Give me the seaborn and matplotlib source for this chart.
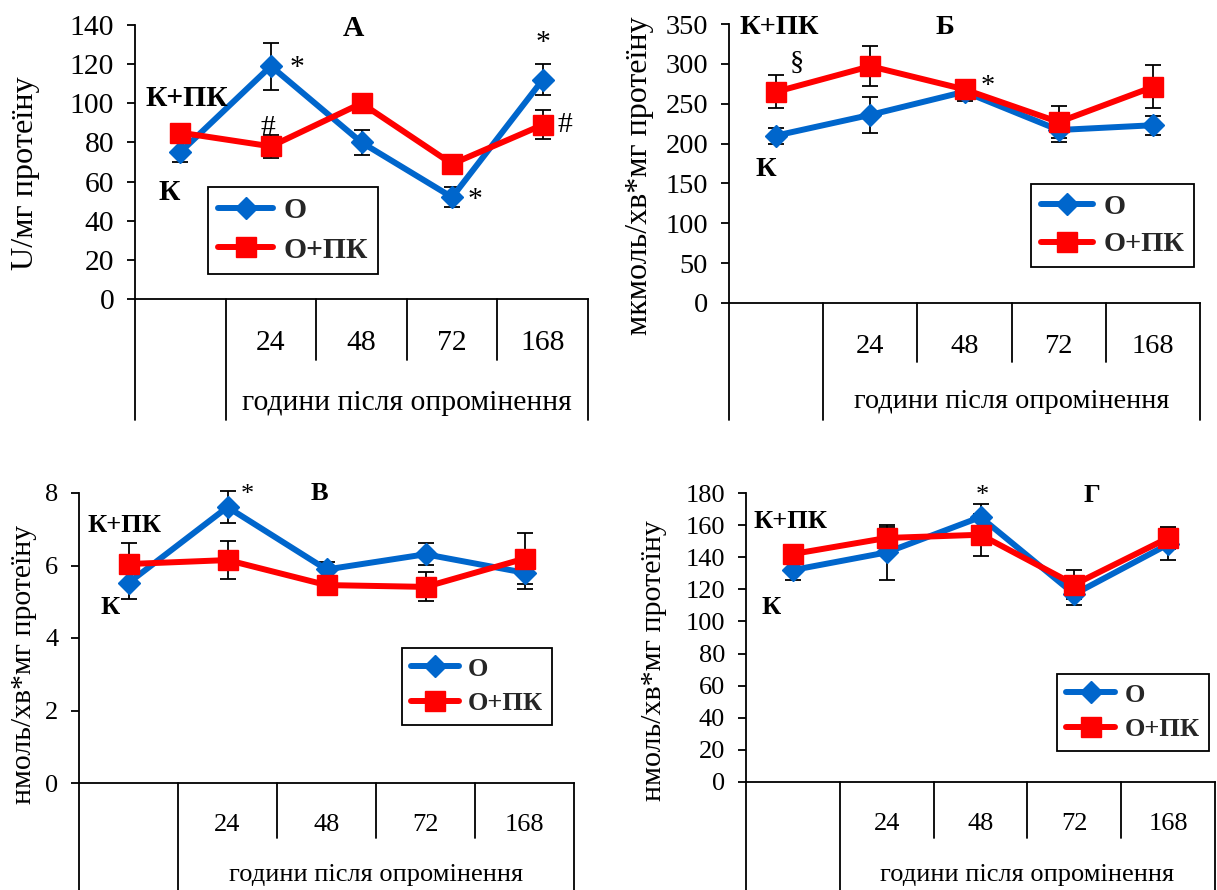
import matplotlib
matplotlib.use("Agg")
import matplotlib.pyplot as plt
import matplotlib.transforms as mtrans
import numpy as np
import pandas as pd
import seaborn as sns

# ---------------- data ----------------
x_pos = [0, 1, 2, 3, 4]
table_labels = ["", "24", "48", "72", "168"]
group_names = ["О", "О+ПК"]
xlabel_text = "години після опромінення"

# Panel А
a_O = [75, 119, 80, 52, 112]
a_O_err = [5, 12, 6.5, 5, 8]
a_P = [85, 78, 100, 69, 89]
a_P_err = [3, 6, 4, 3, 7.5]
a_ylabel = "U/мг протеїну"

# Panel Б
b_O = [210, 236, 265, 217, 223]
b_O_err = [10, 23, 12, 15, 12]
b_P = [265, 297, 268, 227, 271]
b_P_err = [21, 25, 10, 20, 27]
b_ylabel = "мкмоль/хв*мг протеїну"

# Panel В
c_O = [5.52, 7.61, 5.89, 6.31, 5.80]
c_O_err = [0.45, 0.45, 0.2, 0.3, 0.45]
c_P = [6.04, 6.15, 5.46, 5.41, 6.19]
c_P_err = [0.58, 0.53, 0.2, 0.4, 0.7]
c_ylabel = "нмоль/хв*мг протеїну"

# Panel Г
d_O = [132, 143, 165, 117, 148]
d_O_err = [6, 17, 8, 7, 10]
d_P = [142, 152, 154, 123, 152]
d_P_err = [4, 7, 13, 9, 7]
d_ylabel = "нмоль/хв*мг протеїну"

# significance marks: (symbol, series, index)
a_marks = [("*", "O", 1), ("#", "P", 1), ("*", "O", 3), ("*", "O", 4), ("#", "P", 4)]
b_marks = [("§", "P", 0), ("*", "P", 2)]
c_marks = [("*", "O", 1)]
d_marks = [("*", "O", 2)]

# ---------------- style ----------------
sns.set_theme(style="white")
plt.rcParams["font.family"] = ["Liberation Serif", "DejaVu Serif"]
BLUE = "#0066CC"
RED = "#FF0000"
W, H = 1217, 890
fig = plt.figure(figsize=(W / 100, H / 100), dpi=100)
fig.patch.set_facecolor("white")

# offsets (pixels) of marks relative to their points, y up
mark_offsets = {
    "A": [(26, -2), (-3, 18), (23, -3), (0, 37), (22, 0)],
    "B": [(21, 28), (23, 3)],
    "C": [(20, 12)],
    "D": [(2, 21)],
}

panels = [
    dict(key="A", L=135, R=588, T=25, B=299, ymax=140, step=20, fs=21.3, yfs=23.2,
         O=a_O, Oe=a_O_err, P=a_P, Pe=a_P_err, ylabel=a_ylabel, ylab=(26, 173),
         title="А", title_xy=(353, 28), kp=(187, 98), k=(169, 192),
         leg=(208, 187), hl=1.85, row=360, bot=420, xlab=403, marks=a_marks),
    dict(key="B", L=729, R=1200, T=24, B=303, ymax=350, step=50, fs=20.4, yfs=23.0,
         O=b_O, Oe=b_O_err, P=b_P, Pe=b_P_err, ylabel=b_ylabel, ylab=(640, 176),
         title="Б", title_xy=(945, 27), kp=(779, 27), k=(766, 170),
         leg=(1031, 184), hl=1.85, row=362, bot=420, xlab=402, marks=b_marks),
    dict(key="C", L=79, R=574, T=493, B=783, ymax=8, step=2, fs=19.0, yfs=21.4,
         O=c_O, Oe=c_O_err, P=c_P, Pe=c_P_err, ylabel=c_ylabel, ylab=(24, 664),
         title="В", title_xy=(319, 494), kp=(125, 525), k=(110, 608),
         leg=(402, 648), hl=1.8, row=838, bot=890, xlab=875, marks=c_marks),
    dict(key="D", L=746, R=1215, T=493, B=782, ymax=180, step=20, fs=19.0, yfs=21.6,
         O=d_O, Oe=d_O_err, P=d_P, Pe=d_P_err, ylabel=d_ylabel, ylab=(654, 661),
         title="Г", title_xy=(1092, 495), kp=(791, 522), k=(771, 608),
         leg=(1057, 674), hl=1.85, row=838, bot=890, xlab=875, marks=d_marks),
]


def ftext(x, y, s, fs, **kw):
    fig.text(x / W, 1 - y / H, s, ha="center", va="center", fontsize=fs, color="black", **kw)


for p in panels:
    L, R, T, B = p["L"], p["R"], p["T"], p["B"]
    fs = p["fs"]
    ax = fig.add_axes([L / W, 1 - B / H, (R - L) / W, (B - T) / H])
    ax.set_facecolor("white")
    hpx = B - T

    ax.errorbar(x_pos, p["O"], yerr=p["Oe"], fmt="none", ecolor="black",
                elinewidth=1.3, capsize=5.5, capthick=1.3, zorder=2, clip_on=False)
    ax.errorbar(x_pos, p["P"], yerr=p["Pe"], fmt="none", ecolor="black",
                elinewidth=1.3, capsize=5.5, capthick=1.3, zorder=2, clip_on=False)

    df_o = pd.DataFrame({"pos": x_pos, "value": p["O"]})
    df_p = pd.DataFrame({"pos": x_pos, "value": p["P"]})
    sns.lineplot(data=df_o, x="pos", y="value", ax=ax, color=BLUE, marker="D",
                 markersize=11.5, markeredgecolor=BLUE, markeredgewidth=1,
                 linewidth=4.3, errorbar=None, legend=False, zorder=3)
    line_o = ax.lines[-1]
    sns.lineplot(data=df_p, x="pos", y="value", ax=ax, color=RED, marker="s",
                 markersize=14, markeredgecolor=RED, markeredgewidth=1,
                 linewidth=4.3, errorbar=None, legend=False, zorder=4)
    line_p = ax.lines[-1]
    for ln in (line_o, line_p):
        ln.set_clip_on(False)

    ax.set_xlim(-0.5, 4.5)
    ax.set_ylim(0, p["ymax"])
    ax.set_yticks(np.arange(0, p["ymax"] + p["step"] / 2, p["step"]))
    ax.set_xticks(x_pos, table_labels)
    ax.set_xlabel("")
    ax.set_ylabel("")
    ax.tick_params(axis="y", left=True, direction="out", length=6, width=1.3,
                   pad=9, labelsize=fs, colors="black")
    ax.tick_params(axis="x", bottom=False, length=0, pad=22, labelsize=fs, colors="black")
    for s in ("top", "right"):
        ax.spines[s].set_visible(False)
    for s in ("left", "bottom"):
        ax.spines[s].set_color("black")
        ax.spines[s].set_linewidth(1.3)

    # table below the axis
    tr = mtrans.blended_transform_factory(ax.transData, ax.transAxes)
    row_f = -(p["row"] - B) / hpx
    bot_f = -(p["bot"] - B) / hpx
    for xv, yb in [(-0.5, bot_f), (0.5, bot_f), (1.5, row_f), (2.5, row_f), (3.5, row_f), (4.5, bot_f)]:
        ax.plot([xv, xv], [0, yb], transform=tr, color="black", lw=1.3, clip_on=False, zorder=1)
    ax.text(2.5, -(p["xlab"] - B) / hpx, xlabel_text, transform=tr, ha="center", va="center",
            fontsize=fs, color="black")

    # y label, titles, group labels
    fig.text(p["ylab"][0] / W, 1 - p["ylab"][1] / H, p["ylabel"], rotation=90,
             ha="center", va="center", fontsize=p["yfs"], color="black")
    ftext(*p["title_xy"], p["title"], fs, fontweight="bold")
    ftext(*p["kp"], "К+ПК", fs, fontweight="bold")
    ftext(*p["k"], "К", fs, fontweight="bold")

    # significance marks
    for (sym, ser, idx), (dx, dy) in zip(p["marks"], mark_offsets[p["key"]]):
        yv = p["O"][idx] if ser == "O" else p["P"][idx]
        ax.annotate(sym, xy=(x_pos[idx], yv), xytext=(dx, dy), textcoords="offset pixels",
                    ha="center", va="center", fontsize=fs, color="black", annotation_clip=False)

    # legend
    lx, ly = p["leg"]
    leg = ax.legend([line_o, line_p], group_names, loc="upper left",
                    bbox_to_anchor=(lx / W, 1 - ly / H), bbox_transform=fig.transFigure,
                    frameon=True, fancybox=False, edgecolor="black", framealpha=1,
                    prop={"weight": "bold", "size": fs}, handlelength=p["hl"],
                    handletextpad=0.35, borderpad=0.35, labelspacing=0.42,
                    borderaxespad=0)
    leg.get_frame().set_linewidth(1.3)

fig.savefig("out.png", dpi=100, facecolor="white")
